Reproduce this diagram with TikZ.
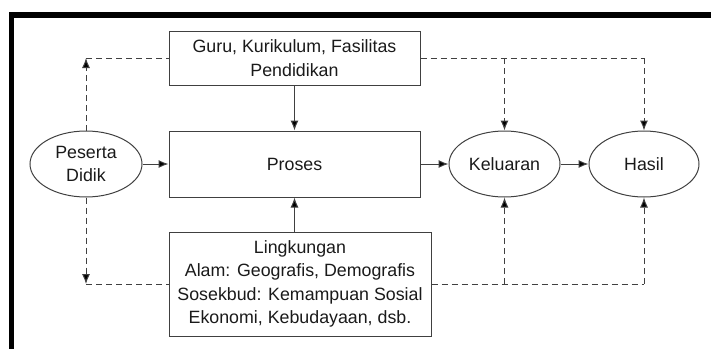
\documentclass[tikz,border=0pt]{standalone}
\usepackage{fontspec}
\setmainfont{Liberation Sans}
\usetikzlibrary{shapes.geometric,arrows.meta}
\definecolor{linegray}{HTML}{404040}
\definecolor{textgray}{HTML}{1A1A1A}

\begin{document}
\begin{tikzpicture}[x=1pt, y=-1pt,
        box/.style={draw=linegray, line width=1pt, inner sep=0pt, align=center, text=textgray},
        oval/.style={ellipse, draw=linegray, line width=1pt, inner sep=0pt, align=center, text=textgray,
                minimum height=66pt},
        arr/.style={-{Latex[length=10pt,width=8pt,fill=black]}, line width=1pt, draw=linegray},
        dashline/.style={linegray, line width=1pt, dash pattern=on 6pt off 4pt}]

        \useasboundingbox (0,0) rectangle (711,348);
        \fontsize{17.8}{23.3}\selectfont

        %frame
        \draw[line width=5.5pt, miter limit=10] (11.3,352) -- (11.3,15) -- (716,15);

        %boxes
        \node[box, minimum width=251pt, minimum height=54pt] (guru) at (294.5,58)
        {Guru, Kurikulum, Fasilitas \\ Pendidikan};
        \node[box, minimum width=251pt, minimum height=66pt] (proses) at (294.5,164) {Proses};
        \node[box, minimum width=262pt, minimum height=104pt] (lingk) at (300,284)
        {Lingkungan \\ Alam: Geografis, Demografis \\ Sosekbud: Kemampuan Sosial \\ Ekonomi, Kebudayaan, dsb.};

        %ovals
        \node[oval, minimum width=112pt] (peserta) at (86,164) {Peserta \\ Didik};
        \node[oval, minimum width=111pt] (keluaran) at (504.5,164) {Keluaran};
        \node[oval, minimum width=110pt] (hasil) at (644,164) {Hasil};

        %corners of the dashed lines
        \coordinate (tl) at (peserta.north |- guru.west);
        \coordinate (bl) at (peserta.south |- lingk.west);
        \coordinate (tr) at (hasil.north |- guru.east);
        \coordinate (br) at (hasil.south |- lingk.east);

        %main flow
        \draw[arr] (peserta) -- (proses);
        \draw[arr] (proses) -- (keluaran);
        \draw[arr] (keluaran) -- (hasil);
        \draw[arr] (guru) -- (proses);
        \draw[arr] (lingk.north -| proses) -- (proses.south);

        %feedback
        \draw[dashline] (tl) -- (guru.west);
        \draw[dashline, arr, dash pattern=on 6pt off 4pt] (peserta.north) -- (tl);
        \draw[dashline] (bl) -- (lingk.west);
        \draw[dashline, arr, dash pattern=on 6pt off 4pt] (peserta.south) -- (bl);
        \draw[dashline] (guru.east) -- (tr);
        \draw[dashline, arr, dash pattern=on 6pt off 4pt] (tr) -- (hasil.north);
        \draw[dashline, arr, dash pattern=on 6pt off 4pt] (tr -| keluaran) -- (keluaran.north);
        \draw[dashline] (lingk.east) -- (br);
        \draw[dashline, arr, dash pattern=on 6pt off 4pt] (br) -- (hasil.south);
        \draw[dashline, arr, dash pattern=on 6pt off 4pt] (br -| keluaran) -- (keluaran.south);

\end{tikzpicture}
\end{document}
